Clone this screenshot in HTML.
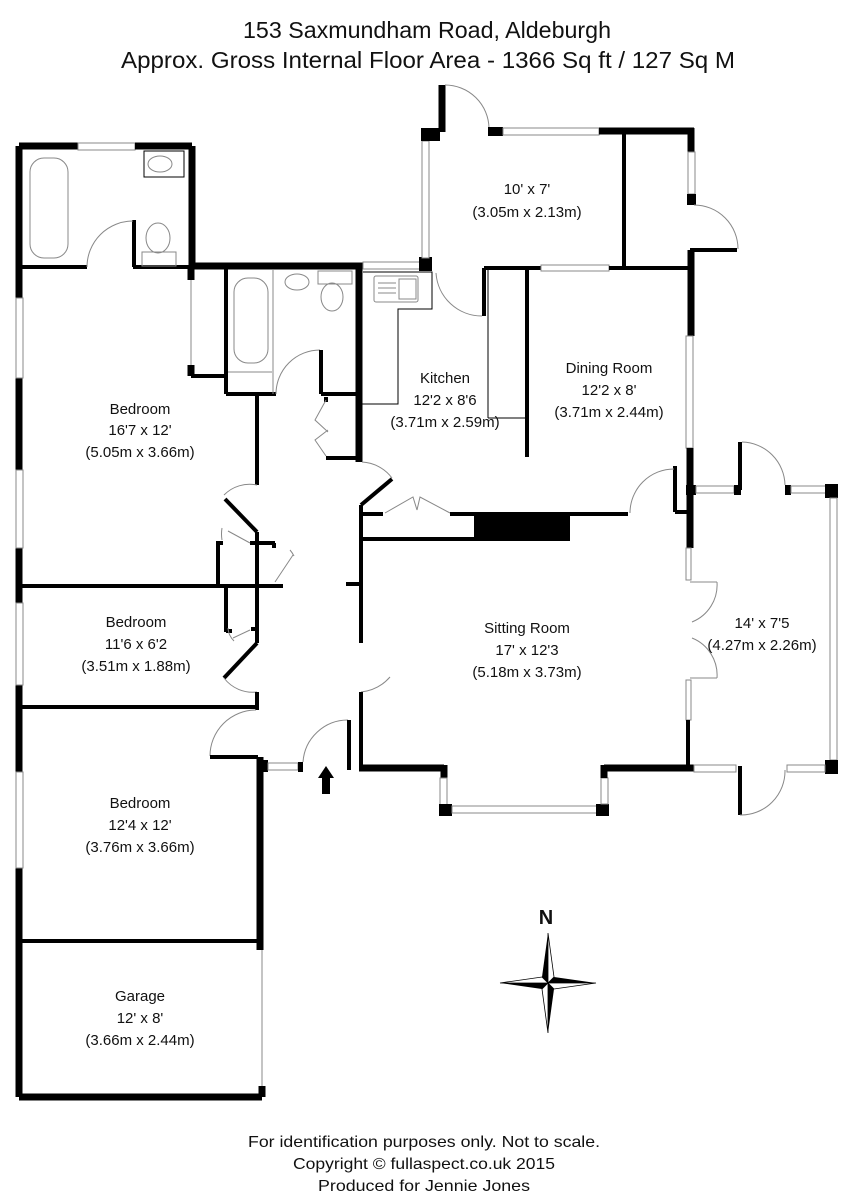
<!DOCTYPE html>
<html><head><meta charset="utf-8"><style>
html,body{margin:0;padding:0;background:#fff}
svg{display:block}
text{font-family:"Liberation Sans",sans-serif;fill:#111}
.t{font-size:15px;text-anchor:middle}
.w{stroke:#000;stroke-width:7;fill:none}
.m{stroke:#000;stroke-width:4;fill:none}
.n{stroke:#000;stroke-width:1;fill:none}
.g{stroke:#888;stroke-width:1;fill:none}
.win{fill:#fff;stroke:#888;stroke-width:1}
</style></head><body>
<svg width="855" height="1200" viewBox="0 0 855 1200">
<text x="427" y="38" font-size="23" text-anchor="middle" textLength="368" lengthAdjust="spacingAndGlyphs">153 Saxmundham Road, Aldeburgh</text>
<text x="428" y="68" font-size="23" text-anchor="middle" textLength="614" lengthAdjust="spacingAndGlyphs">Approx. Gross Internal Floor Area - 1366 Sq ft / 127 Sq M</text>

<line class="w" x1="19" y1="146" x2="19" y2="1097"/>
<line class="w" x1="19" y1="1097" x2="262" y2="1097"/>
<rect class="win" x="16" y="298" width="7" height="80"/>
<rect class="win" x="16" y="470" width="7" height="78"/>
<rect class="win" x="16" y="603" width="7" height="82"/>
<rect class="win" x="16" y="772" width="7" height="96"/>
<line class="w" x1="19" y1="146" x2="78" y2="146"/>
<rect class="win" x="78" y="143" width="57" height="7"/>
<line class="w" x1="135" y1="146" x2="192" y2="146"/>
<line class="w" x1="192" y1="146" x2="192" y2="268"/>
<line class="m" x1="22" y1="267" x2="87" y2="267"/>
<line class="m" x1="133" y1="267" x2="192" y2="267"/>
<line class="m" x1="134" y1="220" x2="134" y2="267"/>
<path class="g" d="M87,267 A46,46 0 0 1 133,221"/>
<rect class="g" x="30" y="158" width="38" height="100" rx="14"/>
<rect class="n" x="144" y="151" width="40" height="26"/>
<ellipse class="g" cx="160" cy="164" rx="12" ry="8"/>
<ellipse class="g" cx="158" cy="238" rx="12" ry="15"/>
<rect class="g" x="142" y="252" width="34" height="14"/>
<line class="w" x1="192" y1="266" x2="363" y2="266"/>
<rect class="win" x="363" y="262" width="60" height="7"/>
<rect x="419" y="257" width="13" height="14" fill="#000"/>
<line class="w" x1="191" y1="268" x2="191" y2="280"/>
<line class="g" x1="191" y1="280" x2="191" y2="365"/>
<line class="w" x1="191" y1="365" x2="191" y2="376"/>
<line class="m" x1="191" y1="376" x2="226" y2="376"/>
<line class="m" x1="226" y1="268" x2="226" y2="394"/>
<line class="m" x1="226" y1="394" x2="276" y2="394"/>
<rect class="g" x="234" y="278" width="34" height="85" rx="14"/>
<line class="g" x1="228" y1="372" x2="272" y2="372"/>
<line class="g" x1="273" y1="270" x2="273" y2="394"/>
<path class="g" d="M276,394 A44,44 0 0 1 320,350"/>
<line class="m" x1="321" y1="350" x2="321" y2="394"/>
<line class="m" x1="321" y1="394" x2="358" y2="394"/>
<ellipse class="g" cx="297" cy="282" rx="12" ry="8"/>
<ellipse class="g" cx="332" cy="297" rx="11" ry="14"/>
<rect class="g" x="318" y="271" width="34" height="13"/>
<line class="w" x1="359" y1="266" x2="359" y2="462"/>
<line class="m" x1="326" y1="397" x2="326" y2="402"/>
<line class="m" x1="326" y1="458" x2="359" y2="458"/>
<path class="g" d="M326,400 L315,420 L328,432 M326,456 L315,440 L328,430"/>
<!-- corridor left -->
<line class="m" x1="257" y1="396" x2="257" y2="485"/>
<path class="g" d="M224,495 A36,36 0 0 1 257,485"/>
<line class="m" x1="225" y1="499" x2="257" y2="532"/>
<line class="m" x1="257" y1="532" x2="257" y2="643"/>
<line class="m" x1="250" y1="543" x2="275" y2="543"/>
<line class="m" x1="274" y1="543" x2="274" y2="548"/>
<path class="g" d="M228,531 L250,543 M293,555 L275,582"/>
<path class="g" d="M222,528 A36,36 0 0 0 222,540 M290,550 A30,30 0 0 1 294,556"/>
<line class="m" x1="218" y1="541" x2="218" y2="585"/>
<line class="m" x1="218" y1="543" x2="223" y2="543"/>
<line class="m" x1="226" y1="586" x2="226" y2="632"/>
<line class="m" x1="226" y1="631" x2="232" y2="631"/>
<line class="m" x1="251" y1="629" x2="257" y2="629"/>
<path class="g" d="M233,638 L250,630 M228,628 A20,20 0 0 0 234,641"/>
<line class="m" x1="257" y1="643" x2="224" y2="678"/>
<path class="g" d="M224,678 A36,36 0 0 0 257,692"/>
<line class="m" x1="257" y1="692" x2="257" y2="710"/>
<line class="m" x1="361" y1="584" x2="346" y2="584"/>
<!-- corridor right -->
<path class="g" d="M362,462 A40,40 0 0 1 392,478"/>
<line class="m" x1="392" y1="479" x2="361" y2="505"/>
<line class="m" x1="361" y1="505" x2="361" y2="643"/>
<path class="g" d="M361,692 A45,45 0 0 0 390,677"/>
<line class="m" x1="361" y1="692" x2="361" y2="770"/>
<!-- dividers -->
<line class="m" x1="22" y1="586" x2="283" y2="586"/>
<line class="m" x1="22" y1="707" x2="257" y2="707"/>
<line class="m" x1="22" y1="941" x2="262" y2="941"/>
<!-- bedroom3 door & entrance -->
<path class="g" d="M210,756 A46,46 0 0 1 256,710"/>
<line class="m" x1="210" y1="757" x2="258" y2="757"/>
<line class="w" x1="260" y1="757" x2="260" y2="950"/>
<rect x="257" y="760" width="11" height="12" fill="#000"/>
<line class="g" x1="262" y1="950" x2="262" y2="1086"/>
<line class="w" x1="262" y1="1086" x2="262" y2="1097"/>
<rect class="win" x="268" y="763" width="30" height="7"/>
<rect x="298" y="762" width="5" height="10" fill="#000"/>
<path class="g" d="M303,762 A45,45 0 0 1 348,720"/>
<line class="m" x1="349" y1="720" x2="349" y2="770"/>
<path d="M326,766 L334,778 L330,778 L330,794 L322,794 L322,778 L318,778 Z" fill="#000"/>

<!-- KITCHEN / 10x7 -->
<rect class="win" x="422" y="141" width="7" height="117"/>
<rect x="421" y="128" width="19" height="13" fill="#000"/>
<line class="w" x1="442" y1="85" x2="442" y2="132"/>
<path class="g" d="M445,85 A44,44 0 0 1 489,128"/>
<rect x="488" y="127" width="15" height="9" fill="#000"/>
<rect class="win" x="503" y="128" width="96" height="7"/>
<line class="w" x1="599" y1="131" x2="694" y2="131"/>
<line class="w" x1="691" y1="128" x2="691" y2="152"/>
<rect class="win" x="688" y="152" width="7" height="42"/>
<rect x="687" y="194" width="9" height="11" fill="#000"/>
<path class="g" d="M694,205 A44,44 0 0 1 738,249"/>
<line class="m" x1="690" y1="250" x2="737" y2="250"/>
<line class="m" x1="624" y1="133" x2="624" y2="266"/>
<line class="w" x1="691" y1="250" x2="691" y2="336"/>
<line class="m" x1="484" y1="268" x2="541" y2="268"/>
<rect class="win" x="541" y="265" width="68" height="6"/>
<line class="m" x1="609" y1="268" x2="690" y2="268"/>
<line class="m" x1="484" y1="268" x2="484" y2="316"/>
<path class="g" d="M436,273 A46,46 0 0 0 482,316"/>
<line class="n" x1="488" y1="270" x2="488" y2="418"/>
<line class="n" x1="488" y1="418" x2="526" y2="418"/>
<line class="m" x1="527" y1="268" x2="527" y2="457"/>
<path class="n" d="M363,272 L432,272 L432,309 L398,309 L398,404 L362,404" />
<rect class="g" x="374" y="276" width="44" height="26" rx="2"/>
<rect class="g" x="399" y="279" width="17" height="20"/>
<line class="g" x1="378" y1="283" x2="396" y2="283"/>
<line class="g" x1="378" y1="288" x2="396" y2="288"/>
<line class="g" x1="378" y1="293" x2="396" y2="293"/>
<rect class="win" x="686" y="336" width="7" height="112"/>
<line class="w" x1="690" y1="448" x2="690" y2="548"/>
<rect class="win" x="686" y="548" width="5" height="32"/>
<line class="m" x1="675" y1="466" x2="675" y2="512"/>
<line class="m" x1="675" y1="512" x2="690" y2="512"/>
<path class="g" d="M630,513 A44,44 0 0 1 674,469"/>
<line class="m" x1="362" y1="514" x2="383" y2="514"/>
<path class="g" d="M385,513 L413,497 L417,510 M450,513 L420,497 L417,510"/>
<line class="m" x1="450" y1="514" x2="628" y2="514"/>
<rect x="474" y="513" width="96" height="28" fill="#000"/>
<line class="m" x1="362" y1="539" x2="475" y2="539"/>
<!-- sunroom -->
<rect x="686" y="485" width="10" height="10" fill="#000"/>
<rect class="win" x="696" y="486" width="38" height="7"/>
<rect x="734" y="485" width="7" height="10" fill="#000"/>
<line class="m" x1="740" y1="442" x2="740" y2="490"/>
<path class="g" d="M742,442 A44,44 0 0 1 785,485"/>
<rect x="785" y="485" width="6" height="10" fill="#000"/>
<rect class="win" x="791" y="486" width="37" height="7"/>
<rect x="825" y="484" width="13" height="14" fill="#000"/>
<rect class="win" x="830" y="498" width="7" height="262"/>
<rect x="825" y="760" width="13" height="14" fill="#000"/>
<path class="g" d="M690,582 L717,582 M717,582 A40,40 0 0 1 692,622 M690,678 L717,678 M717,678 A40,40 0 0 0 692,638"/>
<rect class="win" x="686" y="680" width="5" height="40"/>
<line class="m" x1="688" y1="720" x2="688" y2="770"/>
<!-- sitting bottom -->
<line class="w" x1="359" y1="768" x2="444" y2="768"/>
<line class="w" x1="444" y1="765" x2="444" y2="778"/>
<rect class="win" x="440" y="778" width="7" height="28"/>
<rect x="439" y="804" width="13" height="12" fill="#000"/>
<rect class="win" x="452" y="806" width="145" height="7"/>
<rect x="596" y="804" width="13" height="12" fill="#000"/>
<rect class="win" x="601" y="778" width="7" height="26"/>
<line class="w" x1="604" y1="768" x2="694" y2="768"/>
<line class="w" x1="604" y1="765" x2="604" y2="778"/>
<rect class="win" x="694" y="765" width="42" height="7"/>
<line class="m" x1="740" y1="766" x2="740" y2="815"/>
<path class="g" d="M740,815 A44,44 0 0 0 785,770"/>
<rect class="win" x="787" y="765" width="38" height="7"/>

<text class="t" x="140" y="414">Bedroom</text>
<text class="t" x="140" y="435">16'7 x 12'</text>
<text class="t" x="140" y="457">(5.05m x 3.66m)</text>
<text class="t" x="136" y="627">Bedroom</text>
<text class="t" x="136" y="649">11'6 x 6'2</text>
<text class="t" x="136" y="671">(3.51m x 1.88m)</text>
<text class="t" x="140" y="808">Bedroom</text>
<text class="t" x="140" y="830">12'4 x 12'</text>
<text class="t" x="140" y="852">(3.76m x 3.66m)</text>
<text class="t" x="140" y="1001">Garage</text>
<text class="t" x="140" y="1023">12' x 8'</text>
<text class="t" x="140" y="1045">(3.66m x 2.44m)</text>
<text class="t" x="527" y="194">10' x 7'</text>
<text class="t" x="527" y="217">(3.05m x 2.13m)</text>
<text class="t" x="445" y="383">Kitchen</text>
<text class="t" x="445" y="405">12'2 x 8'6</text>
<text class="t" x="445" y="427">(3.71m x 2.59m)</text>
<text class="t" x="609" y="373">Dining Room</text>
<text class="t" x="609" y="395">12'2 x 8'</text>
<text class="t" x="609" y="417">(3.71m x 2.44m)</text>
<text class="t" x="527" y="633">Sitting Room</text>
<text class="t" x="527" y="655">17' x 12'3</text>
<text class="t" x="527" y="677">(5.18m x 3.73m)</text>
<text class="t" x="762" y="628">14' x 7'5</text>
<text class="t" x="762" y="650">(4.27m x 2.26m)</text>

<text x="546" y="924" font-size="20" font-weight="bold" text-anchor="middle">N</text>
<g transform="translate(548,983)">
<path d="M0,-50 L-6,-6 L0,0 Z" fill="#000"/><path d="M0,-50 L6,-6 L0,0 Z" fill="#fff" stroke="#000" stroke-width="0.8"/>
<path d="M0,50 L6,6 L0,0 Z" fill="#000"/><path d="M0,50 L-6,6 L0,0 Z" fill="#fff" stroke="#000" stroke-width="0.8"/>
<path d="M48,0 L6,-6 L0,0 Z" fill="#000"/><path d="M48,0 L6,6 L0,0 Z" fill="#fff" stroke="#000" stroke-width="0.8"/>
<path d="M-48,0 L-6,6 L0,0 Z" fill="#000"/><path d="M-48,0 L-6,-6 L0,0 Z" fill="#fff" stroke="#000" stroke-width="0.8"/>
</g>

<text x="424" y="1147" font-size="16" text-anchor="middle" textLength="352" lengthAdjust="spacingAndGlyphs">For identification purposes only. Not to scale.</text>
<text x="424" y="1169" font-size="16" text-anchor="middle" textLength="262" lengthAdjust="spacingAndGlyphs">Copyright © fullaspect.co.uk 2015</text>
<text x="424" y="1191" font-size="16" text-anchor="middle" textLength="212" lengthAdjust="spacingAndGlyphs">Produced for Jennie Jones</text>
</svg>
</body></html>
